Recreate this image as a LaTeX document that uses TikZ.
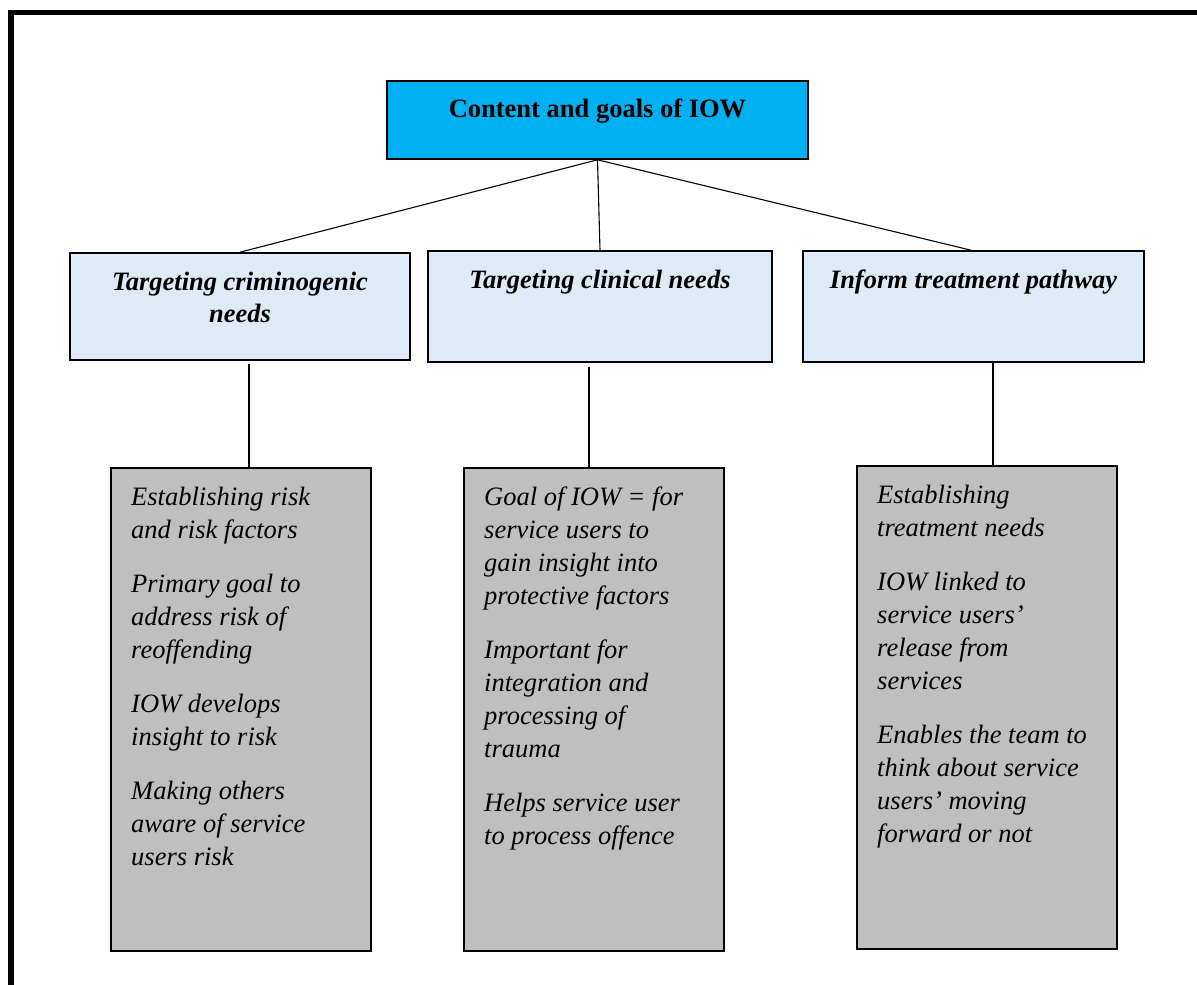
\documentclass[tikz,border=0pt]{standalone}
\usepackage{fontspec}
\setmainfont{Liberation Serif}
\definecolor{topblue}{HTML}{00B0F0}
\definecolor{paleblue}{HTML}{DEEBF7}
\definecolor{boxgray}{HTML}{BFBFBF}
\tikzset{
  boxline/.style={draw=black, line width=1.6pt},
  topbox/.style={boxline, fill=topblue, inner sep=0pt},
  headbox/.style={boxline, fill=paleblue, inner sep=0pt},
  notebox/.style={boxline, fill=boxgray, inner sep=0pt},
  link/.style={draw=black, line width=1.1pt},
  headtext/.style={inner sep=0pt, align=center, anchor=base,
    font=\fontsize{26.5}{32}\selectfont\bfseries\itshape},
  % multi-line notes are placed by the baseline of their last line
  notetext/.style={inner sep=0pt, align=left, anchor=base west,
    font=\fontsize{26.5}{33}\selectfont\itshape}
}
\begin{document}
\begin{tikzpicture}[x=1pt, y=-1pt]
\useasboundingbox (0,0) rectangle (1197,985);

% frame along the top and left edges
\fill[black] (8,10) rectangle (1197,15);
\fill[black] (8,10) rectangle (14,985);

% top box
\node[topbox, minimum width=421pt, minimum height=78pt] (top) at (597.5,120) {};
\node[anchor=base, inner sep=0pt, font=\fontsize{26.5}{32}\selectfont\bfseries] (toptxt) at (597.5,117) {Content and goals of IOW};

% second row
\node[headbox, minimum width=340pt, minimum height=107pt] (lh) at (240,306.5) {};
\node[headbox, minimum width=344pt, minimum height=111pt] (mh) at (600,306.5) {};
\node[headbox, minimum width=341pt, minimum height=111pt] (rh) at (973.5,306.5) {};
\node[headtext] (lhtxt) at (240,322) {Targeting criminogenic\\needs};
\node[headtext] (mhtxt) at (600,288) {Targeting clinical needs};
\node[headtext] (rhtxt) at (973.5,288) {Inform treatment pathway};

% grey note boxes
\node[notebox, minimum width=260pt, minimum height=483pt] (lg) at (241,709.5) {};
\node[notebox, minimum width=260pt, minimum height=483pt] (mg) at (594,709.5) {};
\node[notebox, minimum width=260pt, minimum height=483pt] (rg) at (987,707.5) {};

\node[notetext] (lgtxt) at (131,865) {Establishing risk\\and risk factors\\[21pt]Primary goal to\\address risk of\\reoffending\\[21pt]IOW develops\\insight to risk\\[21pt]Making others\\aware of service\\users risk};
\node[notetext] (mgtxt) at (484,844) {Goal of IOW = for\\service users to\\gain insight into\\protective factors\\[21pt]Important for\\integration and\\processing of\\trauma\\[21pt]Helps service user\\to process offence};
\node[notetext] (rgtxt) at (877,842) {Establishing\\treatment needs\\[21pt]IOW linked to\\service users’\\release from\\services\\[21pt]Enables the team to\\think about service\\users’ moving\\forward or not};

% connectors
\draw[link] (top.south) -- (lh.north);
\draw[link] (top.south) -- (mh.north);
\draw[link] (top.south) -- ([xshift=-2.5pt]rh.north);

\coordinate (lx) at (249,0);
\coordinate (mx) at (589,0);
\coordinate (rx) at (993,0);
\draw[link] ([yshift=-3pt]lh.south -| lx) -- (lg.north -| lx);
\draw[link] ([yshift=-4pt]mh.south -| mx) -- (mg.north -| mx);
\draw[link] ([yshift=2pt]rh.south -| rx) -- (rg.north -| rx);
\end{tikzpicture}
\end{document}
